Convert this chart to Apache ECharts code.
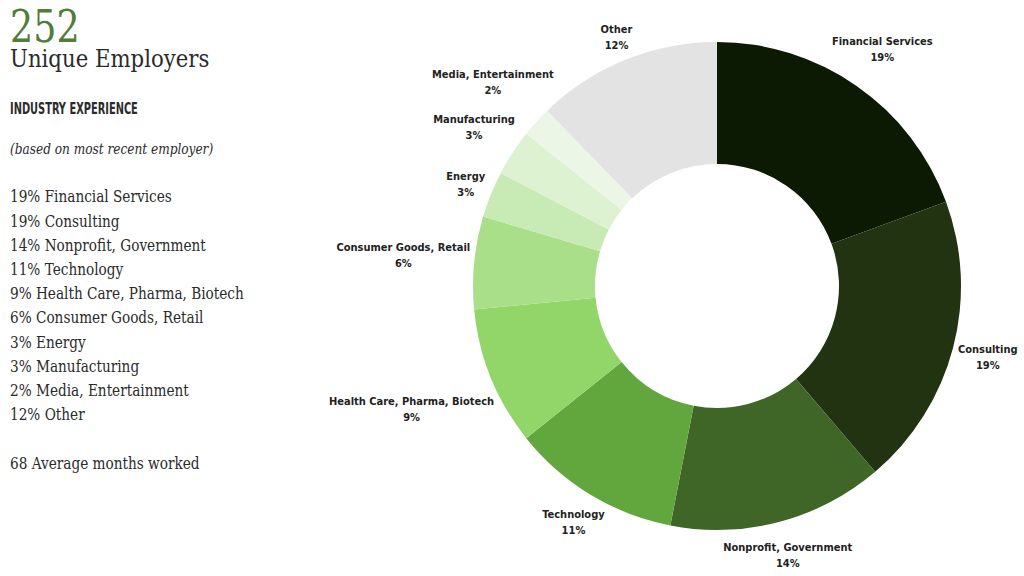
<!DOCTYPE html>
<html>
<head>
<meta charset="utf-8">
<script src="https://cdn.jsdelivr.net/npm/echarts@6/dist/echarts.min.js"></script>
<style>
html,body{margin:0;padding:0;background:#fff;}
#chart{width:1024px;height:576px;}
</style>
</head>
<body>
<div id="chart"></div>
<script>
// 数据
var industries=['Financial Services','Consulting','Nonprofit, Government','Technology','Health Care, Pharma, Biotech','Consumer Goods, Retail','Energy','Manufacturing','Media, Entertainment','Other'];
var shares=[19,19,14,11,9,6,3,3,2,12];
var sliceColors=['#0d1a03','#213311','#3f6627','#62a63e','#92d66a','#a9df88','#c8eab4','#dcf2d0','#ebf6e6','#e3e3e3'];
var uniqueEmployers=252;
var avgMonths=68;

var CX=717,CY=286,R_IN=122,R_OUT=244;
var serif='"DejaVu Serif", "Liberation Serif", serif';
var narrow='"Liberation Sans Narrow", "DejaVu Sans Condensed", "DejaVu Sans", sans-serif';

var total=0,cum=[];
for(var i=0;i<shares.length;i++){
    cum.push(total);
    total+=shares[i];
}

var pieData=[];
for(var j=0;j<industries.length;j++){
    pieData.push({name:industries[j],value:shares[j],itemStyle:{color:sliceColors[j]}});
}

// 左侧文字 (scaleX 压窄字体)
function txt(str,y,font,sx,color){
    return {type:'text',x:10,y:y,scaleX:sx,style:{text:str,font:font,fill:color||'#2b2b2b',verticalAlign:'top'}};
}
var graphics=[
    txt(String(uniqueEmployers),5,'44px '+serif,0.83,'#4f7d3a'),
    txt('Unique Employers',47,'24px '+serif,0.885),
    txt('INDUSTRY EXPERIENCE',101,'bold 15px '+narrow,0.73),
    txt('(based on most recent employer)',141,'italic 15px '+serif,0.81)
];
for(var k=0;k<industries.length;k++){
    graphics.push(txt(shares[k]+'% '+industries[k],189+k*24.2,'16px '+serif,0.853));
}
graphics.push(txt(avgMonths+' Average months worked',455.5,'16px '+serif,0.853));

var chart=echarts.init(document.getElementById('chart'),null,{renderer:'svg'});
var option={
    animation:false,
    graphic:graphics,
    series:[
        {
            type:'pie',
            center:[CX,CY],
            radius:[R_IN,R_OUT],
            startAngle:90,
            clockwise:true,
            avoidLabelOverlap:false,
            data:pieData,
            label:{
                show:true,
                position:'outside',
                formatter:'{b}\n{c}%',
                fontFamily:narrow,
                fontWeight:'bold',
                fontSize:11,
                lineHeight:16,
                color:'#222'
            },
            labelLine:{show:false},
            // 标签放在扇区中线方向外侧，文字居中
            labelLayout:function(params){
                var idx=params.dataIndex;
                var mid=(cum[idx]+shares[idx]/2)/total*Math.PI*2;
                var vx=Math.sin(mid),vy=-Math.cos(mid);
                var w=params.labelRect.width,h=params.labelRect.height;
                var d=R_OUT+3+Math.abs(vx)*w/2+Math.abs(vy)*h/2;
                return {x:CX+vx*d,y:CY+vy*d,align:'center',verticalAlign:'middle'};
            },
            emphasis:{disabled:true}
        }
    ]
};
chart.setOption(option);
</script>
</body>
</html>
